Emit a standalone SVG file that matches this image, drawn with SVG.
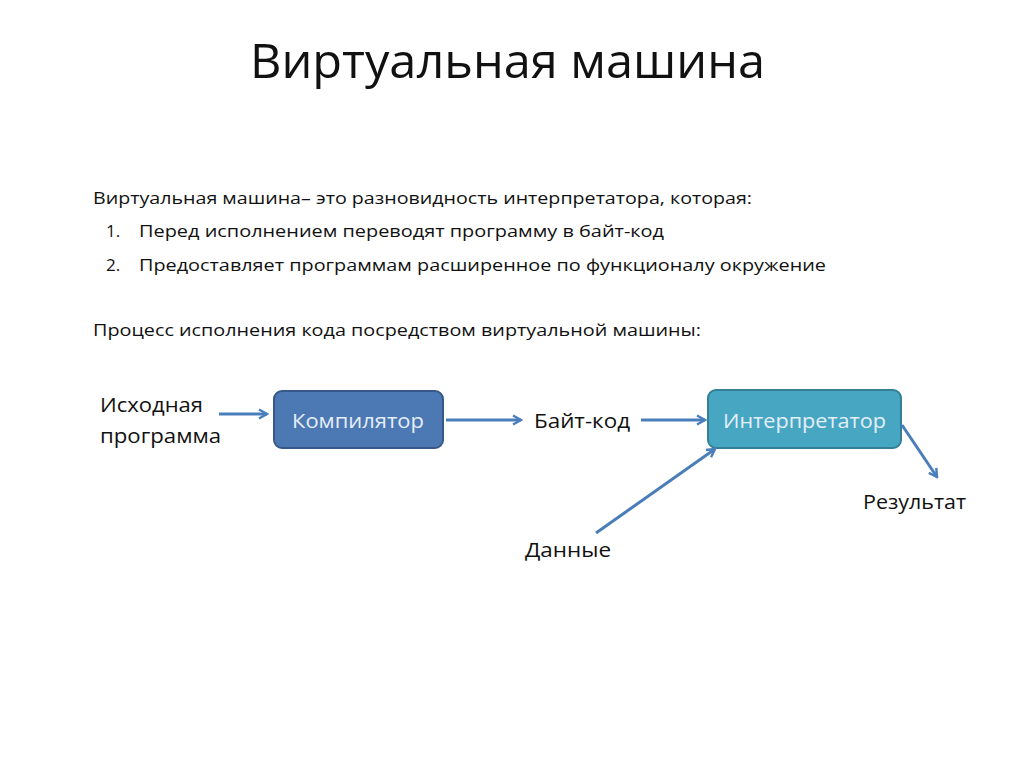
<svg xmlns="http://www.w3.org/2000/svg" width="1014" height="767" viewBox="0 0 1014 767">
<defs>
<marker id="arr" viewBox="0 0 12 12" refX="10" refY="6" markerWidth="12" markerHeight="12" markerUnits="userSpaceOnUse" orient="auto">
<path d="M2,1.5 L10,6 L2,10.5" fill="none" stroke="#4a7ebb" stroke-width="2.4" stroke-linejoin="miter"/>
</marker>
</defs>
<style>
text{font-family:"Open Sans","Noto Sans","DejaVu Sans",sans-serif;fill:#111;}
.title{font-size:48px;}
.body{font-size:17px;}
.lbl{font-size:20px;}
.box-lbl{font-size:20px;fill:#e4eef8;}
.conn{stroke:#4a7ebb;stroke-width:3;fill:none;marker-end:url(#arr);}
</style>
<rect width="1014" height="767" fill="#fff"/>
<text class="title" x="250" y="78" textLength="515" lengthAdjust="spacingAndGlyphs">Виртуальная машина</text>
<text class="body" x="93" y="204" textLength="659" lengthAdjust="spacingAndGlyphs">Виртуальная машина– это разновидность интерпретатора, которая:</text>
<text class="body" x="106" y="237">1.</text>
<text class="body" x="139" y="237" textLength="525" lengthAdjust="spacingAndGlyphs">Перед исполнением переводят программу в байт-код</text>
<text class="body" x="106" y="271">2.</text>
<text class="body" x="139" y="271" textLength="687" lengthAdjust="spacingAndGlyphs">Предоставляет программам расширенное по функционалу окружение</text>
<text class="body" x="93" y="336" textLength="608" lengthAdjust="spacingAndGlyphs">Процесс исполнения кода посредством виртуальной машины:</text>
<g id="source">
<text class="lbl" x="100" y="412" textLength="103" lengthAdjust="spacingAndGlyphs">Исходная</text>
<text class="lbl" x="100" y="443" textLength="121" lengthAdjust="spacingAndGlyphs">программа</text>
</g>
<g id="compiler">
<rect x="274" y="391" width="169" height="57" rx="8" fill="#4c78b4" stroke="#37598a" stroke-width="2"/>
<text class="box-lbl" x="292" y="428" textLength="132" lengthAdjust="spacingAndGlyphs">Компилятор</text>
</g>
<g id="bytecode">
<text class="lbl" x="534" y="428" textLength="96" lengthAdjust="spacingAndGlyphs">Байт-код</text>
</g>
<g id="interpreter">
<rect x="708" y="390" width="193" height="58" rx="8" fill="#47a6c2" stroke="#357f97" stroke-width="2"/>
<text class="box-lbl" x="723" y="428" textLength="163" lengthAdjust="spacingAndGlyphs">Интерпретатор</text>
</g>
<g id="result">
<text class="lbl" x="863" y="509" textLength="103" lengthAdjust="spacingAndGlyphs">Результат</text>
</g>
<g id="data">
<text class="lbl" x="525" y="557" textLength="86" lengthAdjust="spacingAndGlyphs">Данные</text>
</g>
<g id="connectors">
<line class="conn" x1="219" y1="414" x2="267" y2="414"/>
<line class="conn" x1="446" y1="420" x2="521" y2="420"/>
<line class="conn" x1="641" y1="420" x2="705" y2="420"/>
<line class="conn" x1="596" y1="533" x2="715" y2="449"/>
<line class="conn" x1="902" y1="425" x2="937" y2="477"/>
</g>
</svg>
